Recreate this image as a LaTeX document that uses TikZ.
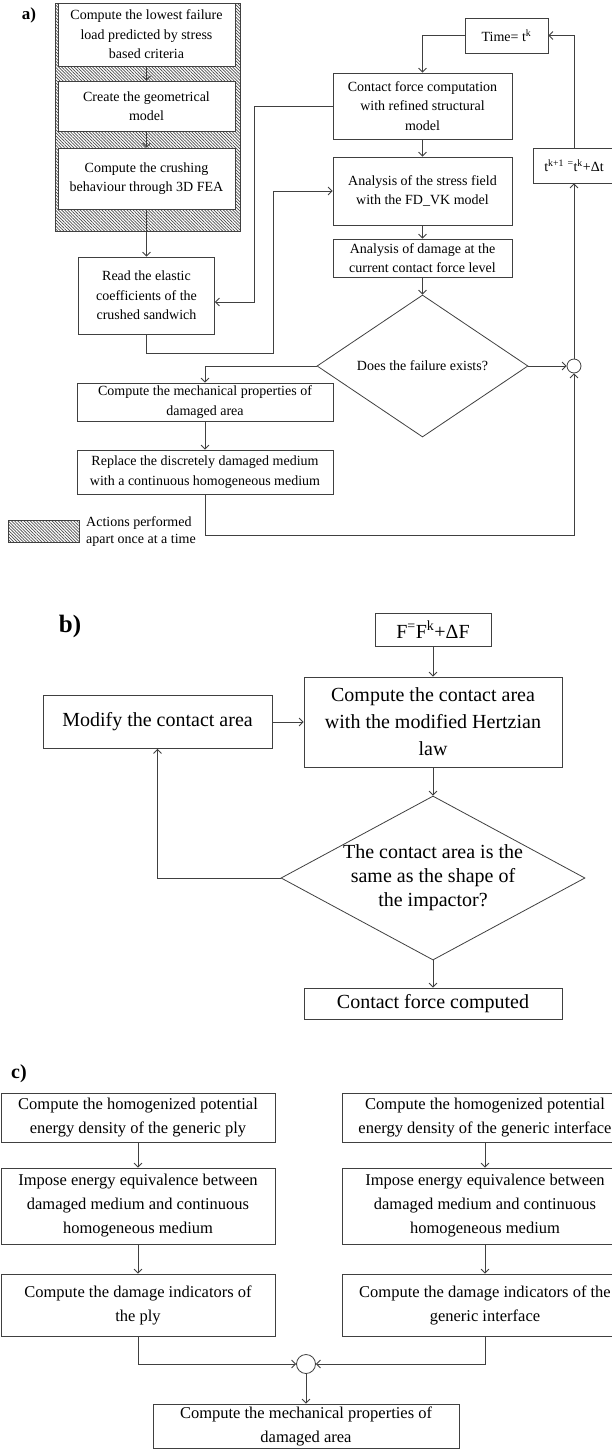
\documentclass[tikz,border=0pt]{standalone}
\usepackage{fontspec}
\setmainfont{Liberation Serif}
\usetikzlibrary{arrows.meta,shapes.geometric,patterns.meta}
\tikzset{
  ln/.style={draw=black!75, line width=0.8pt},
  arr/.style={ln, -{Straight Barb[length=4pt,width=8pt,line width=0.8pt]}},
  fa/.style={font=\fontsize{14}{19.5}\selectfont},
  fbb/.style={font=\fontsize{20}{27}\selectfont},
  fcc/.style={font=\fontsize{16.5}{24}\selectfont},
  bx/.style={draw=black!75, line width=0.8pt, fill=white, align=center, inner sep=0pt},
  abox/.style={bx, fa},
  bbox/.style={bx, fbb},
  cbox/.style={bx, fcc},
  dia/.style={diamond, draw=black!75, line width=0.8pt, inner sep=0pt},
  junc/.style={circle, draw=black!75, line width=0.8pt, fill=white, inner sep=0pt},
  lbl/.style={font=\bfseries, inner sep=0pt},
  hatch/.style={pattern={Lines[angle=-45,distance=2.2pt,line width=0.7pt]}, pattern color=black!70},
  txt/.style={align=center, inner sep=0pt}
}
\begin{document}
\begin{tikzpicture}[x=1pt,y=-1pt]
\useasboundingbox (0,0) rectangle (612,1449);
\clip (0,0) rectangle (612,1449);
\fill[white] (0,0) rectangle (612,1449);

% ---------------- a) ----------------
\node[lbl, font=\fontsize{17}{17}\selectfont\bfseries] (la) at (29,15) {a)};
\node[draw=black!75, line width=0.8pt, hatch, minimum width=185pt, minimum height=228pt, inner sep=0pt] (hb) at (147.5,117) {};
\node[abox, minimum width=177pt, minimum height=63pt] (b1) at (146.5,34.5) {Compute the lowest failure\\load predicted by stress\\based criteria};
\node[abox, minimum width=177pt, minimum height=50pt] (b2) at (146.5,106) {Create the geometrical\\model};
\node[abox, minimum width=177pt, minimum height=61pt] (b3) at (146.5,178.5) {Compute the crushing\\behaviour through 3D FEA};
\node[abox, minimum width=136pt, minimum height=77pt] (read) at (146.5,295.5) {Read the elastic\\coefficients of the\\crushed sandwich};
\node[abox, minimum width=179pt, minimum height=66pt] (cf) at (422.5,106) {Contact force computation\\with refined structural\\model};
\node[abox, minimum width=179pt, minimum height=68pt] (sf) at (422.5,191) {Analysis of the stress field\\with the FD\_VK model};
\node[abox, minimum width=179pt, minimum height=38pt] (dm) at (422.5,258) {Analysis of damage at the\\current contact force level};
\node[dia, minimum width=211pt, minimum height=142pt] (dd) at (422.5,366) {};
\node[txt, fa] (ddt) at (dd.center) {Does the failure exists?};
\node[abox, minimum width=83pt, minimum height=35pt] (tm) at (506.5,35.5) {Time= t\textsuperscript{k}};
\node[abox, minimum width=82pt, minimum height=35pt] (tb) at (574,165.5) {t\textsuperscript{k+1} \textsuperscript{=}t\textsuperscript{k}+Δt};
\node[junc, minimum size=14pt] (cc) at (574,366) {};
\node[abox, minimum width=256pt, minimum height=38pt] (cm) at (205,402) {Compute the mechanical properties of\\damaged area};
\node[abox, minimum width=256pt, minimum height=44pt] (rp) at (205,472) {Replace the discretely damaged medium\\with a continuous homogeneous medium};
\node[draw=black!75, line width=0.6pt, hatch, minimum width=71pt, minimum height=22pt, inner sep=0pt] (lg) at (43.5,531) {};
\node[fa, align=left, anchor=west, inner sep=0pt, font=\fontsize{14}{17}\selectfont] (lgt) at (86,531.5) {Actions performed\\apart once at a time};

\draw[arr] (b1.south) -- (b2.north);
\draw[arr] (b2.south) -- (b3.north);
\draw[arr] (b3.south) -- (read.north);
\draw[arr] (cf.west) -| (254,302) -- ([yshift=-6.5pt]read.east);
\draw[arr] (read.south) -- (146.5,353) -| (273,191) -- (sf.west);
\draw[arr] (tm.west) -| (cf.north);
\draw[arr] (cf.south) -- (sf.north);
\draw[arr] (sf.south) -- (dm.north);
\draw[arr] (dm.south) -- (dd.north);
\draw[arr] (dd.east) -- (cc.west);
\draw[arr] (dd.west) -| (cm.north);
\draw[arr] (cm.south) -- (rp.north);
\draw[arr] (rp.south) -- (205,535) -| (cc.south);
\draw[arr] (cc.north) -- (tb.south);
\draw[arr] (tb.north) |- (tm.east);

% ---------------- b) ----------------
\node[lbl, font=\fontsize{25}{25}\selectfont\bfseries] (lb) at (70,626) {b)};
\node[bbox, minimum width=116pt, minimum height=33pt] (fb) at (433,629.5) {F\textsuperscript{=}F\textsuperscript{k}+ΔF};
\node[bbox, minimum width=258pt, minimum height=90pt] (ca) at (433,722) {Compute the contact area\\with the modified Hertzian\\law};
\node[bbox, minimum width=229pt, minimum height=53pt] (md) at (157.5,722) {Modify the contact area};
\node[dia, minimum width=304pt, minimum height=164pt] (d2) at (433,878) {};
\node[txt, font=\fontsize{20}{24}\selectfont] (d2t) at (d2.center) {The contact area is the\\same as the shape of\\the impactor?};
\node[bbox, minimum width=258pt, minimum height=31pt] (cfc) at (433,1003.5) {Contact force computed};

\draw[arr] (fb.south) -- (ca.north);
\draw[arr] (md.east) -- (ca.west);
\draw[arr] (ca.south) -- (d2.north);
\draw[arr] (d2.west) -| (md.south);
\draw[arr] (d2.south) -- (cfc.north);

% ---------------- c) ----------------
\node[lbl, font=\fontsize{20}{20}\selectfont\bfseries] (lc) at (19,1074) {c)};
\node[cbox, minimum width=274pt, minimum height=49pt] (l1) at (138,1117.5) {Compute the homogenized potential\\energy density of the generic ply};
\node[cbox, minimum width=274pt, minimum height=76pt] (l2) at (138,1206) {Impose energy equivalence between\\damaged medium and continuous\\homogeneous medium};
\node[cbox, minimum width=274pt, minimum height=62pt] (l3) at (138,1305) {Compute the damage indicators of\\the ply};
\node[cbox, minimum width=286pt, minimum height=49pt] (r1) at (485,1117.5) {Compute the homogenized potential\\energy density of the generic interface};
\node[cbox, minimum width=286pt, minimum height=76pt] (r2) at (485,1206) {Impose energy equivalence between\\damaged medium and continuous\\homogeneous medium};
\node[cbox, minimum width=286pt, minimum height=62pt] (r3) at (485,1305) {Compute the damage indicators of the\\generic interface};
\node[junc, minimum size=19pt] (c2) at (306,1364) {};
\node[cbox, minimum width=306pt, minimum height=44pt] (fm) at (306,1426) {Compute the mechanical properties of\\damaged area};

\draw[arr] (l1.south) -- (l2.north);
\draw[arr] (l2.south) -- (l3.north);
\draw[arr] (l3.south) |- (c2.west);
\draw[arr] (r1.south) -- (r2.north);
\draw[arr] (r2.south) -- (r3.north);
\draw[arr] (r3.south) |- (c2.east);
\draw[arr] (c2.south) -- (fm.north);
\end{tikzpicture}
\end{document}
